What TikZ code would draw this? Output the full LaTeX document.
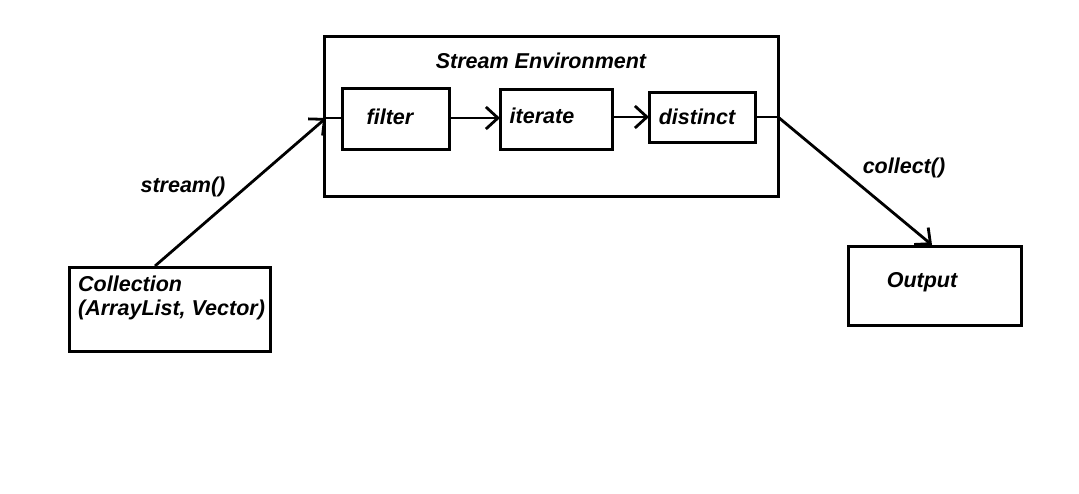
\documentclass[tikz,border=0pt]{standalone}
\usepackage{fontspec}
\setmainfont{Liberation Sans}
\usetikzlibrary{arrows.meta}
\begin{document}
\begin{tikzpicture}[x=1pt,y=-1pt,
  box/.style={draw,line width=3pt},
  lbl/.style={font=\fontsize{21.5}{24}\selectfont\bfseries\itshape,inner sep=0pt},
  conn/.style={line width=2.8pt,-{Straight Barb[length=12pt,width=22pt,line width=2.8pt]}},
  plain/.style={line width=2.8pt}]
\useasboundingbox[fill=white] (0,0) rectangle (1079,494);
\draw[box] (324,37) rectangle (778,197);
\node[lbl] (envlbl) at (541,61) {Stream Environment};
\draw[box] (342,89) rectangle (449,150);
\node[lbl] (filterlbl) at (390,117) {filter};
\draw[box] (500,90) rectangle (612,150);
\node[lbl] (iteratelbl) at (542,116) {iterate};
\draw[box] (649,93) rectangle (755,143);
\node[lbl] (distinctlbl) at (697,117) {distinct};
\draw[box] (69,268) rectangle (270,351);
\node[lbl,anchor=base west] (coll1) at (78,292) {Collection};
\node[lbl,anchor=base west] (coll2) at (78,316) {(ArrayList, Vector)};
\draw[box] (848,247) rectangle (1021,326);
\node[lbl] (outlbl) at (922,282) {Output};
\node[lbl] (streamlbl) at (183,187) {stream()};
\node[lbl] (collectlbl) at (904,168) {collect()};
\coordinate (s0) at (155,266);
\coordinate (s1) at (326,118);
\coordinate (f0) at (342,118);
\coordinate (f1) at (449,118);
\coordinate (i0) at (500,118);
\coordinate (i1) at (612,117);
\coordinate (d0) at (649,117);
\coordinate (d1) at (755,117);
\coordinate (e1) at (778,117);
\coordinate (o0) at (932,245);
\draw[conn] (s0) -- (s1);
\draw[plain] (s1) -- (f0);
\draw[conn] (f1) -- (i0);
\draw[conn] (i1) -- (d0);
\draw[plain] (d1) -- (e1);
\draw[conn] (e1) -- (o0);
\end{tikzpicture}
\end{document}
